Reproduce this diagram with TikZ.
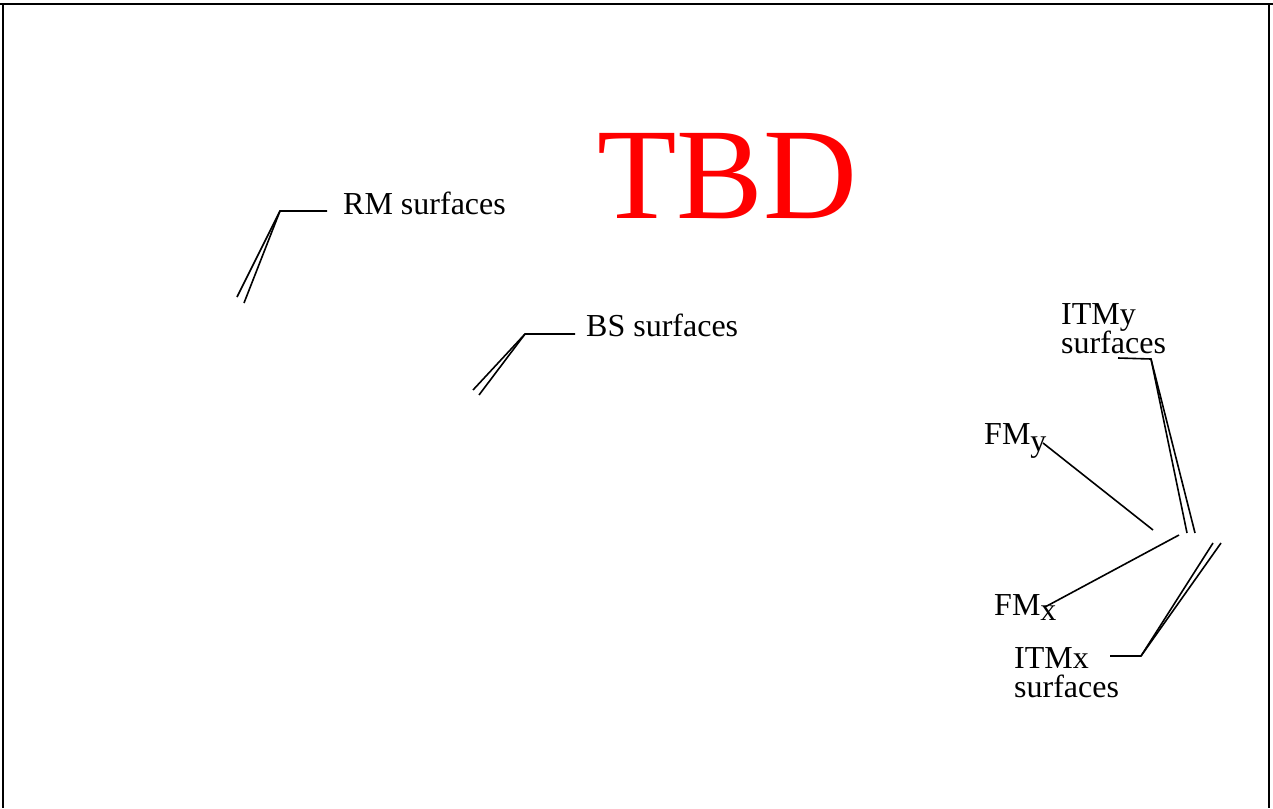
\documentclass[tikz,border=0pt]{standalone}
\usepackage{fontspec}
\setmainfont{Liberation Serif}
\begin{document}
\begin{tikzpicture}[x=1pt,y=-1pt,
  lbl/.style={anchor=base west,inner sep=0pt,font=\fontsize{32}{34}\selectfont,align=left},
  ln/.style={line width=1.6pt}]
\useasboundingbox (0,0) rectangle (1273,808);
\fill[white] (0,0) rectangle (1273,808);
% frame
\draw[ln] (0,4) -- (1273,4);
\draw[ln] (3,4) -- (3,808);
\draw[ln] (1269,4) -- (1269,808);
% title
\node[anchor=base west,inner sep=0pt,text=red,font=\fontsize{130}{134}\selectfont] (tbd) at (597,218) {TBD};
% RM
\node[lbl] (rm) at (343,214) {RM surfaces};
\coordinate (rmk) at (280,211);
\coordinate (rme) at (327,211);
\coordinate (rma) at (237,297);
\coordinate (rmb) at (244,303);
\draw[ln] (rme) -- (rmk) -- (rma);
\draw[ln] (rmk) -- (rmb);
% BS
\node[lbl] (bs) at (586,336) {BS surfaces};
\coordinate (bsk) at (525,334);
\coordinate (bse) at (575,334);
\coordinate (bsa) at (473,390);
\coordinate (bsb) at (479,395);
\draw[ln] (bse) -- (bsk) -- (bsa);
\draw[ln] (bsk) -- (bsb);
% ITMy
\node[lbl] (itmy) at (1061,353) {ITMy\\[-5pt]surfaces};
\coordinate (iyk) at (1151,359);
\coordinate (iye) at (1118,358);
\coordinate (iya) at (1187,533);
\coordinate (iyb) at (1195,533);
\draw[ln] (iye) -- (iyk) -- (iya);
\draw[ln] (iyk) -- (iyb);
% FMy
\node[lbl] (fmy) at (984,444) {FM\raisebox{-7pt}{y}};
\coordinate (fmye) at (1153,530);
\draw[ln] (1043,443) -- (fmye);
% FMx
\node[lbl] (fmx) at (994,615) {FM\raisebox{-5pt}{x}};
\coordinate (fmxe) at (1179,535);
\draw[ln] (1045,607) -- (fmxe);
% ITMx
\node[lbl] (itmx) at (1014,697) {ITMx\\[-5pt]surfaces};
\coordinate (ixk) at (1141,656);
\coordinate (ixe) at (1110,656);
\coordinate (ixa) at (1213,543);
\coordinate (ixb) at (1221,543);
\draw[ln] (ixe) -- (ixk) -- (ixa);
\draw[ln] (ixk) -- (ixb);
\end{tikzpicture}
\end{document}
